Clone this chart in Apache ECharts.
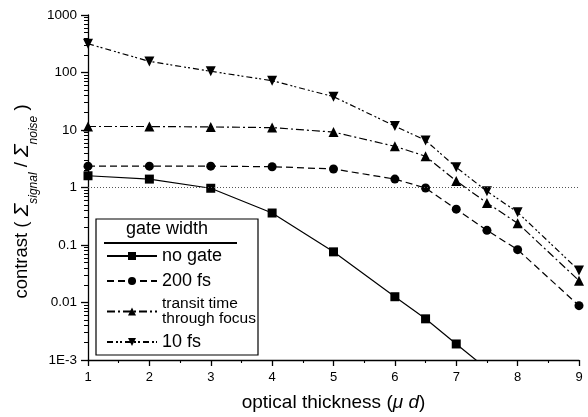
<!DOCTYPE html>
<html>
<head>
<meta charset="utf-8">
<script src="https://cdn.jsdelivr.net/npm/echarts@6/dist/echarts.min.js"></script>
<style>
  html, body { margin: 0; padding: 0; background: #fff; }
  #chart { width: 588px; height: 417px; }
</style>
</head>
<body>
<div id="chart"></div>
<script>
// optical thickness (mu d) sample positions
const thickness = [1, 2, 3, 4, 5, 6, 6.5, 7, 7.5, 8, 9];

// contrast for each gate width
const noGate   = [1.6, 1.4, 0.97, 0.36, 0.076, 0.0126, 0.0052, 0.0019, 0.0007];
const gate200  = [2.35, 2.35, 2.35, 2.3, 2.1, 1.4, 0.98, 0.42, 0.18, 0.083, 0.0088];
const transit  = [11.5, 11.5, 11.3, 11, 9.2, 5.2, 3.5, 1.3, 0.54, 0.24, 0.024];
const gate10   = [316, 156, 105, 72, 38, 11.7, 6.6, 2.24, 0.86, 0.37, 0.036];

const seriesNames = ['no gate', '200 fs', 'transit time through focus', '10 fs'];

// y-axis decades and their labels
const yMajor = [0.001, 0.01, 0.1, 1, 10, 100, 1000];
const yLabels = ['1E-3', '0.01', '0.1', '1', '10', '100', '1000'];
const xTicks = [1, 2, 3, 4, 5, 6, 7, 8, 9];

// log minor ticks (2..9 within each decade)
const yMinor = [];
for (let d = -3; d < 3; d++) {
  for (let m = 2; m <= 9; m++) yMinor.push(+(m * Math.pow(10, d)).toPrecision(3));
}

const FONT = "'Liberation Sans', Arial, Helvetica, sans-serif";
const INK = '#000';

function pairs(vals) {
  return vals.map((v, i) => [thickness[i], v]);
}

const noGateData = pairs(noGate).map((p, i) =>
  i === noGate.length - 1 ? { value: p, symbol: 'none' } : p);

const chart = echarts.init(document.getElementById('chart'), null, { renderer: 'canvas' });

const baseLine = { color: INK, width: 1.2 };

chart.setOption({
  animation: false,
  backgroundColor: '#fff',
  textStyle: { fontFamily: FONT, color: INK },
  grid: { left: 88, right: 9, top: 15, bottom: 57, containLabel: false, outerBoundsMode: 'none' },
  xAxis: {
    type: 'value',
    min: 1, max: 9, interval: 1,
    name: 'optical thickness ({i|μ d})',
    nameLocation: 'middle',
    nameGap: 33,
    nameMoveOverlap: false,
    nameTextStyle: {
      fontFamily: FONT, fontSize: 19, color: INK,
      rich: { i: { fontFamily: FONT, fontSize: 19, fontStyle: 'italic', color: INK } }
    },
    axisLine: { show: true, onZero: false, lineStyle: { color: INK, width: 1.3 } },
    axisTick: { show: true, inside: false, length: 6, lineStyle: { color: INK, width: 1.3 } },
    minorTick: { show: true, splitNumber: 2, length: 3, lineStyle: { color: INK, width: 1.1 } },
    splitLine: { show: false },
    axisLabel: {
      fontFamily: FONT, fontSize: 13, color: INK, margin: 11,
      formatter: v => String(xTicks.find(t => t === v) ?? v)
    }
  },
  yAxis: [{
    type: 'log',
    logBase: 10,
    min: 0.001, max: 1000,
    name: 'contrast ( {S|Σ}{sub|signal} / {S|Σ}{sub|noise} )',
    nameLocation: 'middle',
    nameRotate: 90,
    nameGap: 48,
    nameMoveOverlap: false,
    nameTextStyle: {
      fontFamily: FONT, fontSize: 18.5, color: INK, lineHeight: 36,
      padding: [0, 28, 0, 0],
      rich: {
        S: { fontFamily: FONT, fontSize: 21, fontStyle: 'italic', color: INK, lineHeight: 36 },
        sub: { fontFamily: FONT, fontSize: 12, fontStyle: 'italic', color: INK,
               lineHeight: 12, verticalAlign: 'bottom' }
      }
    },
    axisLine: { show: true, onZero: false, lineStyle: { color: INK, width: 1.3 } },
    axisTick: { show: true, inside: false, length: 7, customValues: yMajor,
                lineStyle: { color: INK, width: 1.3 } },
    splitLine: { show: false },
    axisLabel: {
      fontFamily: FONT, fontSize: 13.5, color: INK, margin: 11,
      customValues: yMajor,
      formatter: v => yLabels[Math.round(Math.log10(v)) + 3]
    }
  }, {
    type: 'log',
    logBase: 10,
    min: 0.001, max: 1000,
    position: 'left',
    axisLine: { show: false },
    axisLabel: { show: false },
    splitLine: { show: false },
    axisTick: { show: true, inside: false, length: 4, customValues: yMinor,
                lineStyle: { color: INK, width: 1 } }
  }],
  legend: {
    orient: 'vertical',
    left: 106, top: 246,
    padding: 0,
    itemGap: 5,
    itemWidth: 50,
    itemHeight: 10,
    z: 10,
    data: seriesNames,
    selectedMode: false,
    formatter: name => name === 'transit time through focus'
      ? '{s|transit time\nthrough focus}' : name,
    textStyle: {
      fontFamily: FONT, fontSize: 18, lineHeight: 20, color: INK,
      rich: { s: { fontFamily: FONT, fontSize: 15.5, lineHeight: 15, color: INK } }
    }
  },
  graphic: [
    { type: 'rect', z: 5, shape: { x: 96, y: 219, width: 162, height: 136 },
      style: { fill: '#fff', stroke: INK, lineWidth: 1.2 } },
    { type: 'text', z: 6, x: 167, y: 229,
      style: { text: 'gate width', fontFamily: FONT, fontSize: 18, fill: INK,
               align: 'center', verticalAlign: 'middle' } },
    { type: 'line', z: 6, shape: { x1: 104, y1: 243, x2: 237, y2: 243 },
      style: { stroke: INK, lineWidth: 2 } }
  ],
  series: [
    {
      name: seriesNames[0], type: 'line', data: noGateData,
      symbol: 'rect', symbolSize: 9,
      itemStyle: { color: INK },
      lineStyle: { ...baseLine, type: 'solid' }
    },
    {
      name: seriesNames[1], type: 'line', data: pairs(gate200),
      symbol: 'circle', symbolSize: 9,
      itemStyle: { color: INK },
      lineStyle: { ...baseLine, type: [7, 4] }
    },
    {
      name: seriesNames[2], type: 'line', data: pairs(transit),
      symbol: 'triangle', symbolSize: 10,
      itemStyle: { color: INK },
      lineStyle: { ...baseLine, type: [8, 3, 2, 3] }
    },
    {
      name: seriesNames[3], type: 'line', data: pairs(gate10),
      symbol: 'triangle', symbolRotate: 180, symbolSize: 10,
      itemStyle: { color: INK },
      lineStyle: { ...baseLine, type: [6, 3, 2, 2, 2, 3] },
      markLine: {
        silent: true, symbol: 'none', animation: false,
        label: { show: false },
        lineStyle: { color: '#555', width: 1, type: [1, 2] },
        data: [[{ coord: [1, 1] }, { coord: [9, 1] }]]
      }
    }
  ]
});
</script>
</body>
</html>
